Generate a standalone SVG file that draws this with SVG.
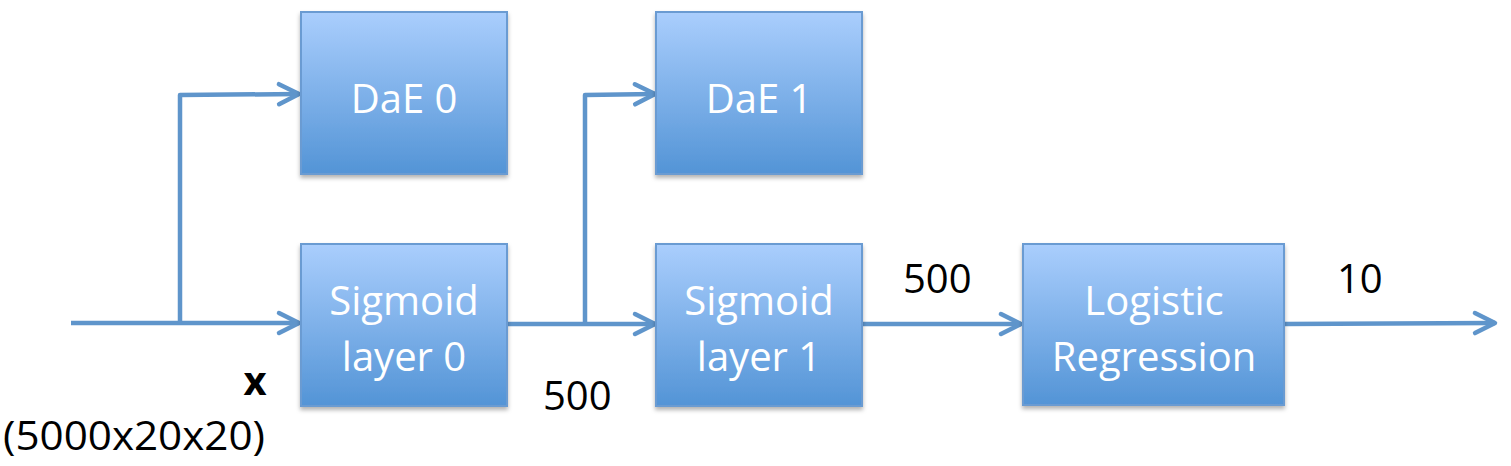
<svg xmlns="http://www.w3.org/2000/svg" width="1511" height="466" viewBox="0 0 1511 466">
<style>
.box{fill:url(#g);stroke:#6a9bd2;stroke-width:2;filter:url(#sh)}
.lbl{font-family:"Open Sans","Liberation Sans",sans-serif;font-size:40px;fill:#ffffff;text-anchor:middle}
.num{font-family:"Open Sans","Liberation Sans",sans-serif;font-size:40px;fill:#000000}
.ln{fill:none;stroke:#5f95cb;stroke-width:4.5;stroke-linejoin:round}
</style>
<defs>
<linearGradient id="g" x1="0" y1="0" x2="0" y2="1">
<stop offset="0" stop-color="#aacefd"/>
<stop offset="1" stop-color="#5394d6"/>
</linearGradient>
<filter id="sh" x="-10%" y="-10%" width="120%" height="130%">
<feDropShadow dx="0" dy="3" stdDeviation="2" flood-color="#000" flood-opacity="0.3"/>
</filter>
<marker id="ar" markerUnits="userSpaceOnUse" viewBox="-25 -14 30 28" refX="0" refY="0" markerWidth="30" markerHeight="28" orient="auto" overflow="visible">
<path d="M-20,-10 L0,0 L-20,10" fill="none" stroke="#5f95cb" stroke-width="4.5" stroke-linecap="round" stroke-linejoin="round"/>
</marker>
</defs>
<g id="connectors">
<path class="ln" d="M71,323 L299,323" marker-end="url(#ar)"/>
<path class="ln" d="M180,323 L180,95 L299,94" marker-end="url(#ar)"/>
<path class="ln" d="M507,324 L655,324" marker-end="url(#ar)"/>
<path class="ln" d="M585,324 L585,95 L655,94" marker-end="url(#ar)"/>
<path class="ln" d="M862,324 L1021,324" marker-end="url(#ar)"/>
<path class="ln" d="M1284,324 L1495,323" marker-end="url(#ar)"/>
</g>
<g id="dae0">
<rect class="box" x="301" y="12" width="206" height="162"/>
<text class="lbl" x="404" y="113">DaE 0</text>
</g>
<g id="sig0">
<rect class="box" x="301" y="244" width="206" height="162"/>
<text class="lbl" x="404" y="315">Sigmoid</text>
<text class="lbl" x="404" y="371">layer 0</text>
</g>
<g id="dae1">
<rect class="box" x="656" y="12" width="206" height="162"/>
<text class="lbl" x="759" y="113">DaE 1</text>
</g>
<g id="sig1">
<rect class="box" x="656" y="244" width="206" height="162"/>
<text class="lbl" x="759" y="315">Sigmoid</text>
<text class="lbl" x="759" y="371">layer 1</text>
</g>
<g id="logreg">
<rect class="box" x="1023" y="244" width="261" height="161"/>
<text class="lbl" x="1154" y="315">Logistic</text>
<text class="lbl" x="1154" y="371">Regression</text>
</g>
<g id="labels">
<text class="num" x="255" y="395" text-anchor="middle" font-weight="bold" font-size="36">x</text>
<text class="num" x="3" y="450" textLength="262" lengthAdjust="spacingAndGlyphs">(5000x20x20)</text>
<text class="num" x="543" y="410">500</text>
<text class="num" x="903" y="293">500</text>
<text class="num" x="1337" y="293">10</text>
</g>
</svg>
